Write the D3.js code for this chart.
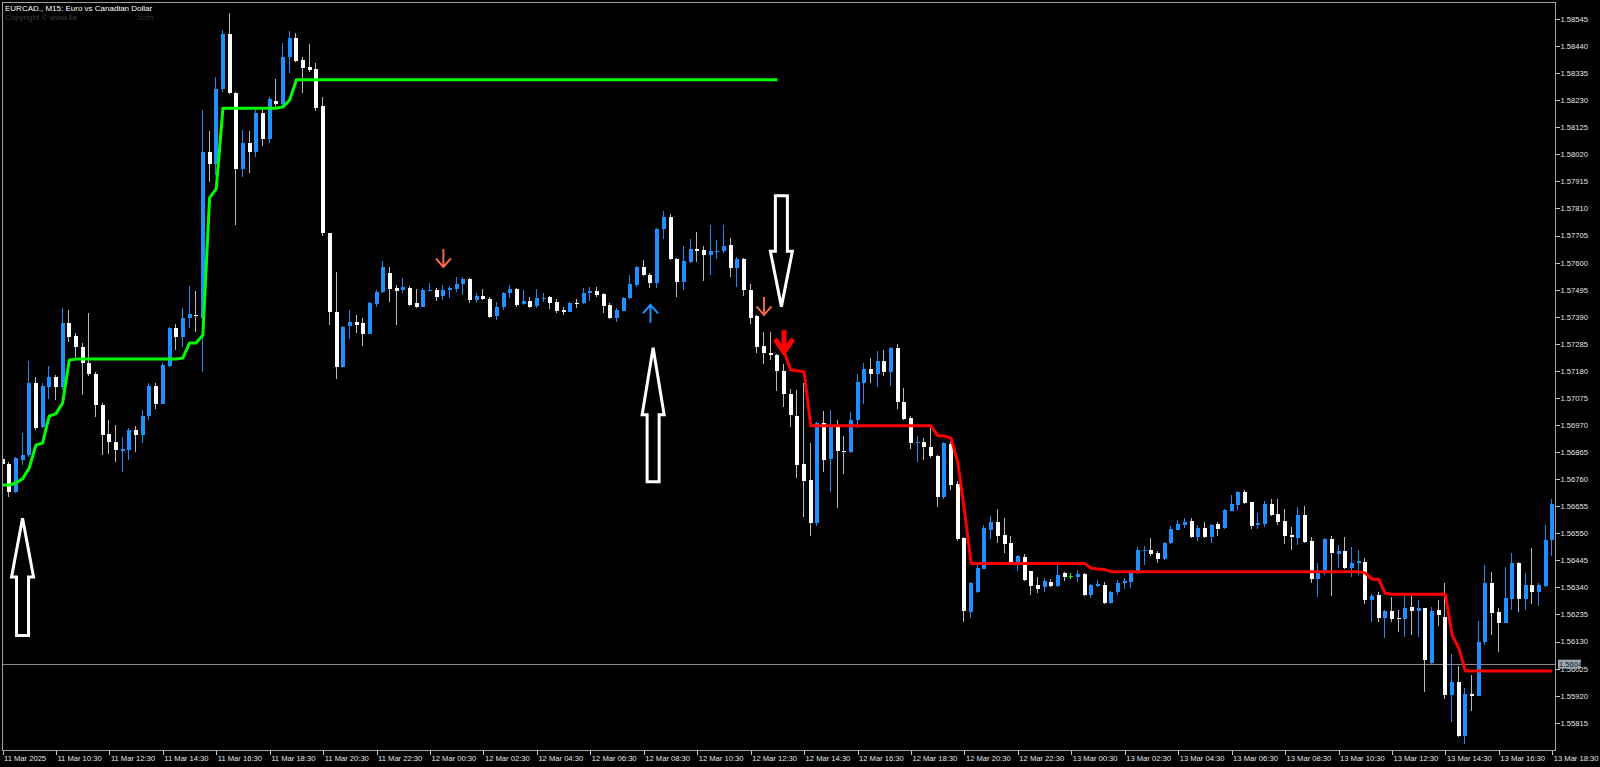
<!DOCTYPE html>
<html><head><meta charset="utf-8">
<script src="https://cdn.jsdelivr.net/npm/d3@7"></script>
<style>html,body{margin:0;padding:0;background:#000;overflow:hidden}</style>
</head><body>
<svg id="c" width="1600" height="767"></svg>
<script>
// ---------- data ----------
const title = "EURCAD., M15:  Euro vs Canadian Dollar";
const timeTickBars = [0,8,16,24,32,40,48,56,64,72,80,88,96,104,112,120,128,136,144,152,160,168,176,184,192,200,208,216,224,232];
const timeLabels = ["11 Mar 2025","11 Mar 10:30","11 Mar 12:30","11 Mar 14:30","11 Mar 16:30","11 Mar 18:30","11 Mar 20:30","11 Mar 22:30",
 "12 Mar 00:30","12 Mar 02:30","12 Mar 04:30","12 Mar 06:30","12 Mar 08:30","12 Mar 10:30","12 Mar 12:30","12 Mar 14:30","12 Mar 16:30","12 Mar 18:30","12 Mar 20:30","12 Mar 22:30",
 "13 Mar 00:30","13 Mar 02:30","13 Mar 04:30","13 Mar 06:30","13 Mar 08:30","13 Mar 10:30","13 Mar 12:30","13 Mar 14:30","13 Mar 16:30","13 Mar 18:30"];
const priceTicks = [1.55815,1.55920,1.56025,1.56130,1.56235,1.56340,1.56445,1.56550,1.56655,1.56760,1.56865,1.56970,1.57075,1.57180,1.57285,1.57390,1.57495,1.57600,1.57705,1.57810,1.57915,1.58020,1.58125,1.58230,1.58335,1.58440,1.58545];
const currentPrice = 1.56042;

const open = [1.56838,1.56819,1.56710,1.56834,1.56854,1.57133,1.56962,1.57117,1.57156,1.57117,1.57366,1.57315,1.57273,1.57211,1.57168,1.57048,1.56935,1.56904,1.56869,1.56873,
1.56951,1.56931,1.57005,1.57121,1.57052,1.57199,1.57346,1.57311,1.57385,1.57397,1.57385,1.58029,1.57983,1.58274,1.58487,1.58258,1.57963,1.58064,1.58029,1.58181,
1.58080,1.58227,1.58216,1.58398,1.58472,1.58386,1.58359,1.58351,1.58208,1.57715,1.57408,1.57195,1.57354,1.57370,1.57366,1.57323,1.57439,1.57486,1.57560,1.57502,
1.57494,1.57502,1.57443,1.57428,1.57490,1.57494,1.57471,1.57494,1.57498,1.57517,1.57537,1.57455,1.57471,1.57459,1.57393,1.57428,1.57482,1.57498,1.57439,1.57451,
1.57432,1.57459,1.57467,1.57447,1.57416,1.57408,1.57443,1.57443,1.57482,1.57490,1.57478,1.57436,1.57385,1.57412,1.57463,1.57513,1.57583,1.57552,1.57521,1.57730,
1.57777,1.57614,1.57525,1.57602,1.57653,1.57649,1.57630,1.57641,1.57645,1.57669,1.57579,1.57614,1.57494,1.57393,1.57277,1.57249,1.57242,1.57180,1.57090,1.57005,
1.56819,1.56757,1.56590,1.56978,1.56838,1.56962,1.56869,1.56865,1.56989,1.57133,1.57187,1.57168,1.57218,1.57176,1.57269,1.57059,1.56997,1.56900,1.56904,1.56885,
1.56850,1.56691,1.56896,1.56741,1.56532,1.56244,1.56322,1.56411,1.56563,1.56594,1.56543,1.56512,1.56435,1.56458,1.56404,1.56349,1.56341,1.56361,1.56345,1.56396,
1.56384,1.56380,1.56392,1.56310,1.56345,1.56349,1.56279,1.56322,1.56357,1.56361,1.56396,1.56481,1.56485,1.56474,1.56450,1.56512,1.56563,1.56582,1.56598,1.56536,
1.56570,1.56536,1.56586,1.56570,1.56637,1.56660,1.56710,1.56671,1.56582,1.56586,1.56664,1.56625,1.56598,1.56543,1.56532,1.56621,1.56520,1.56372,1.56396,1.56528,
1.56470,1.56481,1.56415,1.56435,1.56439,1.56291,1.56310,1.56221,1.56248,1.56221,1.56217,1.56264,1.56248,1.56260,1.56047,1.56252,1.56225,1.55922,1.55973,1.55763,
1.55926,1.55918,1.56128,1.56357,1.56244,1.56202,1.56295,1.56435,1.56295,1.56349,1.56322,1.56345,1.56524];
const high = [1.56846,1.56826,1.56846,1.56939,1.57218,1.57156,1.57133,1.57199,1.57164,1.57424,1.57416,1.57327,1.57288,1.57405,1.57176,1.57056,1.56989,1.56970,1.56923,1.56958,
1.56966,1.57028,1.57133,1.57133,1.57211,1.57350,1.57362,1.57424,1.57509,1.57490,1.58192,1.58111,1.58320,1.58503,1.58569,1.58262,1.58115,1.58111,1.58192,1.58204,
1.58243,1.58313,1.58452,1.58499,1.58491,1.58398,1.58448,1.58375,1.58243,1.57715,1.57564,1.57354,1.57416,1.57397,1.57385,1.57447,1.57494,1.57606,1.57583,1.57513,
1.57540,1.57509,1.57498,1.57502,1.57521,1.57502,1.57513,1.57509,1.57544,1.57544,1.57540,1.57482,1.57498,1.57467,1.57447,1.57486,1.57513,1.57502,1.57494,1.57467,
1.57498,1.57482,1.57469,1.57459,1.57428,1.57447,1.57459,1.57502,1.57505,1.57505,1.57482,1.57443,1.57424,1.57467,1.57552,1.57587,1.57610,1.57560,1.57734,1.57800,
1.57788,1.57618,1.57665,1.57692,1.57719,1.57665,1.57746,1.57688,1.57746,1.57696,1.57622,1.57618,1.57517,1.57397,1.57331,1.57331,1.57246,1.57207,1.57110,1.57106,
1.57133,1.56900,1.56982,1.57024,1.57028,1.56989,1.56927,1.57020,1.57168,1.57211,1.57230,1.57257,1.57261,1.57273,1.57284,1.57114,1.57005,1.56927,1.56920,1.56958,
1.56854,1.56904,1.56904,1.56753,1.56536,1.56361,1.56438,1.56582,1.56617,1.56644,1.56609,1.56539,1.56466,1.56470,1.56404,1.56380,1.56376,1.56372,1.56427,1.56400,
1.56396,1.56407,1.56396,1.56353,1.56369,1.56361,1.56326,1.56369,1.56376,1.56400,1.56497,1.56501,1.56532,1.56481,1.56516,1.56578,1.56601,1.56609,1.56609,1.56582,
1.56594,1.56586,1.56594,1.56644,1.56698,1.56714,1.56718,1.56671,1.56629,1.56675,1.56683,1.56683,1.56644,1.56574,1.56652,1.56656,1.56536,1.56435,1.56532,1.56539,
1.56504,1.56536,1.56497,1.56485,1.56454,1.56314,1.56322,1.56252,1.56303,1.56252,1.56306,1.56306,1.56291,1.56260,1.56264,1.56291,1.56357,1.56082,1.56035,1.55950,
1.56000,1.56210,1.56427,1.56400,1.56260,1.56419,1.56473,1.56439,1.56396,1.56493,1.56357,1.56582,1.56683];
const low = [1.56795,1.56691,1.56706,1.56815,1.56846,1.56951,1.56958,1.57071,1.57067,1.57106,1.57292,1.57234,1.57086,1.57160,1.57001,1.56854,1.56858,1.56826,1.56788,1.56834,
1.56865,1.56900,1.56989,1.57032,1.57052,1.57195,1.57261,1.57273,1.57346,1.57331,1.57176,1.57913,1.57940,1.58262,1.58254,1.57746,1.57932,1.57948,1.58010,1.58053,
1.58064,1.58204,1.58208,1.58336,1.58378,1.58258,1.58340,1.58188,1.57703,1.57358,1.57149,1.57191,1.57304,1.57327,1.57277,1.57323,1.57428,1.57482,1.57447,1.57358,
1.57482,1.57432,1.57424,1.57428,1.57490,1.57451,1.57455,1.57463,1.57486,1.57474,1.57443,1.57443,1.57455,1.57385,1.57377,1.57416,1.57463,1.57428,1.57436,1.57424,
1.57424,1.57447,1.57420,1.57405,1.57397,1.57408,1.57424,1.57439,1.57451,1.57467,1.57405,1.57381,1.57370,1.57412,1.57459,1.57505,1.57548,1.57502,1.57502,1.57692,
1.57610,1.57467,1.57494,1.57598,1.57602,1.57529,1.57552,1.57614,1.57637,1.57544,1.57505,1.57471,1.57362,1.57249,1.57207,1.57222,1.57102,1.57040,1.56962,1.56764,
1.56613,1.56539,1.56579,1.56788,1.56710,1.56648,1.56780,1.56861,1.56958,1.57052,1.57133,1.57117,1.57160,1.57121,1.57032,1.56989,1.56877,1.56826,1.56834,1.56842,
1.56652,1.56683,1.56718,1.56520,1.56206,1.56221,1.56318,1.56411,1.56528,1.56512,1.56473,1.56427,1.56404,1.56365,1.56310,1.56318,1.56322,1.56341,1.56341,1.56365,
1.56372,1.56361,1.56306,1.56299,1.56341,1.56275,1.56275,1.56310,1.56334,1.56338,1.56392,1.56427,1.56462,1.56435,1.56446,1.56508,1.56563,1.56570,1.56532,1.56520,
1.56532,1.56512,1.56540,1.56567,1.56637,1.56640,1.56664,1.56567,1.56567,1.56574,1.56617,1.56582,1.56508,1.56485,1.56504,1.56512,1.56357,1.56303,1.56388,1.56306,
1.56415,1.56411,1.56380,1.56388,1.56275,1.56206,1.56206,1.56144,1.56206,1.56167,1.56147,1.56155,1.56147,1.55934,1.56043,1.56190,1.55907,1.55818,1.55759,1.55732,
1.55860,1.55918,1.56116,1.56155,1.56089,1.56202,1.56252,1.56244,1.56252,1.56275,1.56268,1.56341,1.56462];
const close = [1.56819,1.56710,1.56842,1.56854,1.57133,1.56958,1.57121,1.57156,1.57117,1.57366,1.57311,1.57273,1.57211,1.57168,1.57048,1.56931,1.56904,1.56873,1.56877,1.56951,
1.56931,1.57005,1.57121,1.57052,1.57203,1.57346,1.57311,1.57385,1.57401,1.57393,1.58029,1.57983,1.58274,1.58487,1.58258,1.57963,1.58064,1.58029,1.58181,1.58080,
1.58235,1.58216,1.58398,1.58472,1.58382,1.58355,1.58348,1.58200,1.57715,1.57408,1.57195,1.57350,1.57370,1.57358,1.57323,1.57443,1.57486,1.57583,1.57498,1.57490,
1.57505,1.57436,1.57428,1.57494,1.57494,1.57467,1.57494,1.57502,1.57517,1.57537,1.57455,1.57471,1.57459,1.57389,1.57428,1.57482,1.57498,1.57436,1.57451,1.57428,
1.57463,1.57463,1.57443,1.57412,1.57408,1.57443,1.57439,1.57482,1.57490,1.57474,1.57432,1.57385,1.57416,1.57463,1.57517,1.57583,1.57552,1.57521,1.57730,1.57777,
1.57614,1.57525,1.57606,1.57653,1.57645,1.57630,1.57645,1.57645,1.57665,1.57579,1.57614,1.57494,1.57385,1.57273,1.57249,1.57242,1.57180,1.57090,1.57009,1.56815,
1.56753,1.56590,1.56978,1.56834,1.56962,1.56869,1.56865,1.56989,1.57137,1.57187,1.57168,1.57218,1.57176,1.57269,1.57059,1.56993,1.56900,1.56904,1.56885,1.56850,
1.56691,1.56900,1.56737,1.56528,1.56248,1.56357,1.56415,1.56570,1.56594,1.56539,1.56508,1.56435,1.56462,1.56369,1.56345,1.56334,1.56365,1.56345,1.56388,1.56380,
1.56384,1.56392,1.56310,1.56349,1.56353,1.56279,1.56322,1.56357,1.56365,1.56396,1.56485,1.56485,1.56470,1.56450,1.56512,1.56567,1.56586,1.56594,1.56536,1.56570,
1.56536,1.56582,1.56567,1.56640,1.56664,1.56710,1.56667,1.56578,1.56590,1.56664,1.56621,1.56594,1.56539,1.56536,1.56621,1.56516,1.56372,1.56396,1.56528,1.56473,
1.56481,1.56415,1.56435,1.56443,1.56291,1.56306,1.56221,1.56248,1.56217,1.56217,1.56260,1.56248,1.56260,1.56058,1.56248,1.56233,1.55922,1.55973,1.55763,1.55926,
1.55918,1.56128,1.56357,1.56241,1.56202,1.56299,1.56435,1.56295,1.56349,1.56322,1.56349,1.56524,1.56664];

// trailing stop lines (green: bars 0..116, red: bars 117..232)
const greenStart = 0;
const greenLine = [1.56737,1.56737,1.56745,1.56761,1.56803,1.56892,1.56900,1.57005,1.57013,1.57055,1.57222,
1.57226,1.57226,1.57226,1.57226,1.57226,1.57226,1.57226,1.57226,1.57226,1.57226,1.57226,1.57226,1.57226,1.57226,1.57226,1.57226,
1.57230,1.57288,1.57288,1.57319,1.57851,1.57886,1.58199,
1.58199,1.58199,1.58199,1.58199,1.58199,1.58199,1.58199,1.58199,
1.58204,1.58231,
1.58309,1.58309,1.58309,1.58309,1.58309,1.58309,1.58309,1.58309,1.58309,1.58309,1.58309,1.58309,1.58309,1.58309,1.58309,1.58309,1.58309,1.58309,1.58309,1.58309,
1.58309,1.58309,1.58309,1.58309,1.58309,1.58309,1.58309,1.58309,1.58309,1.58309,1.58309,1.58309,1.58309,1.58309,1.58309,1.58309,1.58309,1.58309,1.58309,1.58309,
1.58309,1.58309,1.58309,1.58309,1.58309,1.58309,1.58309,1.58309,1.58309,1.58309,1.58309,1.58309,1.58309,1.58309,1.58309,1.58309,1.58309,1.58309,1.58309,1.58309,
1.58309,1.58309,1.58309,1.58309,1.58309,1.58309,1.58309,1.58309,1.58309,1.58309,1.58309,1.58309,1.58309];
const redStart = 117;
const redLine = [1.57254,1.57183,1.57180,1.57176,
1.56967,1.56967,1.56967,1.56967,1.56967,1.56967,1.56967,1.56967,1.56967,1.56967,1.56967,1.56967,1.56967,1.56967,1.56967,1.56967,1.56967,1.56967,1.56967,
1.56929,1.56927,1.56919,1.56826,1.56640,
1.56433,1.56433,1.56433,1.56433,1.56433,1.56433,1.56433,1.56433,1.56433,1.56433,1.56433,1.56433,1.56433,1.56433,1.56433,1.56433,1.56433,1.56433,
1.56414,1.56411,1.56409,
1.56401,1.56401,1.56401,1.56401,1.56401,1.56401,1.56401,1.56401,1.56401,1.56401,1.56401,1.56401,1.56401,1.56401,1.56401,1.56401,1.56401,1.56401,1.56401,
1.56401,1.56401,1.56401,1.56401,1.56401,1.56401,1.56401,1.56401,1.56401,1.56401,1.56401,1.56401,1.56401,1.56401,1.56401,1.56401,1.56401,1.56401,1.56401,
1.56396,1.56372,1.56372,1.56317,
1.56313,1.56313,1.56313,1.56313,1.56313,1.56313,1.56313,1.56313,1.56313,
1.56155,1.56105,
1.56016,1.56016,1.56016,1.56016,1.56016,1.56016,1.56016,1.56016,1.56016,1.56016,1.56016,1.56016,1.56016,1.56016];

// signal arrows (bar index, tip price)
const sellSignalBars = [66, 114];
const sellSignalPrices = [1.57583, 1.57397];
const buySignalBars = [97];
const buySignalPrices = [1.57436];
const strongSellBars = [117];
const strongSellPrices = [1.57253];
// big hollow annotation arrows (bar, tip price, tail price, direction)
const bigArrowBars = [3, 97.4, 116.6];
const bigArrowTips = [1.56608, 1.57270, 1.57429];
const bigArrowTails = [1.56153, 1.56750, 1.57859];

// ---------- drawing ----------
const W = 1600, H = 767;
const plotL = 2, plotT = 2, plotR = 1555, plotB = 750;
const svg = d3.select("#c");
svg.append("rect").attr("width", W).attr("height", H).attr("fill", "#000");

const x = d3.scaleLinear().domain([0, 232]).range([2.5, 1552.26]);
const y = d3.scaleLinear().domain([1.55815, 1.58545]).range([722.7, 19]);

svg.append("defs").append("clipPath").attr("id", "clip")
  .append("rect").attr("x", plotL).attr("y", plotT).attr("width", plotR - plotL).attr("height", plotB - plotT);

const font = "'Liberation Sans', Arial, sans-serif";

// current price line
svg.append("line").attr("x1", plotL).attr("x2", plotR)
  .attr("y1", Math.round(y(currentPrice)) + 0.5).attr("y2", Math.round(y(currentPrice)) + 0.5)
  .attr("stroke", "#8a8a8a").attr("stroke-width", 1);

const plot = svg.append("g").attr("clip-path", "url(#clip)");

const bars = open.map((o, i) => ({ i, o, h: high[i], l: low[i], c: close[i] }));
const bull = "#1E90FF", bear = "#FFFFFF", doji = "#00FF00";
const colorOf = d => d.c > d.o ? bull : (d.c < d.o ? bear : doji);
const wickOf = d => d.c > d.o ? "#1E8AF5" : (d.c < d.o ? "#b8b8b8" : doji);

const cg = plot.append("g").attr("shape-rendering", "crispEdges");
cg.selectAll("line.wick").data(bars).join("line").attr("class", "wick")
  .attr("x1", d => Math.round(x(d.i)) - 0.5).attr("x2", d => Math.round(x(d.i)) - 0.5)
  .attr("y1", d => y(d.h)).attr("y2", d => y(d.l))
  .attr("stroke", wickOf).attr("stroke-width", 1);
cg.selectAll("rect.body").data(bars).join("rect").attr("class", "body")
  .attr("x", d => Math.round(x(d.i)) - 2).attr("width", 4)
  .attr("y", d => Math.min(y(d.o), y(d.c)))
  .attr("height", d => Math.max(1, Math.abs(y(d.o) - y(d.c))))
  .attr("fill", colorOf);

// stop lines
const line = d3.line().x(d => x(d.i)).y(d => y(d.v));
plot.append("path").datum(greenLine.map((v, k) => ({ i: greenStart + k, v })))
  .attr("d", line).attr("fill", "none").attr("stroke", "#00FF00").attr("stroke-width", 3).attr("stroke-linejoin", "round");
plot.append("path").datum(redLine.map((v, k) => ({ i: redStart + k, v })))
  .attr("d", line).attr("fill", "none").attr("stroke", "#FF0000").attr("stroke-width", 3).attr("stroke-linejoin", "round");

// thin signal arrows
function thinArrow(cx, tipY, dir, color, sw, len, hw, hh) {
  const p = d3.path();
  p.moveTo(cx, tipY - dir * len); p.lineTo(cx, tipY);
  p.moveTo(cx - hw, tipY - dir * hh); p.lineTo(cx, tipY); p.lineTo(cx + hw, tipY - dir * hh);
  plot.append("path").attr("d", p.toString()).attr("fill", "none").attr("stroke", color)
    .attr("stroke-width", sw).attr("stroke-linejoin", "miter").attr("stroke-linecap", "butt");
}
sellSignalBars.forEach((b, k) => thinArrow(x(b), y(sellSignalPrices[k]), 1, "#F2684C", 2, 18, 7.5, 8.5));
buySignalBars.forEach((b, k) => thinArrow(x(b), y(buySignalPrices[k]), -1, "#1E90FF", 2, 18, 7.5, 8.5));
strongSellBars.forEach((b, k) => thinArrow(x(b), y(strongSellPrices[k]), 1, "#FF0000", 5, 22, 9, 13));

// big hollow arrows
bigArrowBars.forEach((b, k) => {
  const cx = x(b), ty = y(bigArrowTips[k]), ey = y(bigArrowTails[k]);
  const by = ty + (ey - ty) / 2;
  const hw = 11, sw = 6;
  const pts = [[cx, ty], [cx + hw, by], [cx + sw, by], [cx + sw, ey], [cx - sw, ey], [cx - sw, by], [cx - hw, by]];
  plot.append("path").attr("d", d3.line()(pts) + "Z").attr("fill", "none")
    .attr("stroke", "#FFFFFF").attr("stroke-width", 3).attr("stroke-linejoin", "miter");
});

// frame
svg.append("rect").attr("x", plotL + 0.5).attr("y", plotT + 0.5).attr("width", plotR - plotL).attr("height", plotB - plotT)
  .attr("fill", "none").attr("stroke", "#a0a0a0").attr("stroke-width", 1).attr("shape-rendering", "crispEdges");

// price axis
const ya = svg.append("g").attr("transform", `translate(${plotR + 0.5},0)`)
  .call(d3.axisRight(y).tickValues(priceTicks).tickFormat(d3.format(".5f")).tickSize(4).tickPadding(1));
ya.select(".domain").remove();
ya.selectAll("line").attr("stroke", "#c8c8c8").attr("shape-rendering", "crispEdges");
ya.selectAll("text").attr("fill", "#e6e6e6").attr("font-family", font).attr("font-size", 7.6);

// current price label box
const cpy = y(currentPrice);
svg.append("rect").attr("x", 1558).attr("y", cpy - 4.5).attr("width", 23).attr("height", 9)
  .attr("fill", "#9aa5b0");
svg.append("text").attr("x", 1559).attr("y", cpy).attr("dy", "0.34em").text(d3.format(".5f")(currentPrice))
  .attr("fill", "#101820").attr("font-family", font).attr("font-size", 7.6);

// time axis
const xa = svg.append("g").attr("transform", `translate(0,${plotB + 0.5})`)
  .call(d3.axisBottom(x).tickValues(timeTickBars).tickFormat((d, k) => timeLabels[k]).tickSize(4).tickPadding(1));
xa.select(".domain").remove();
xa.selectAll("line").attr("stroke", "#c8c8c8").attr("shape-rendering", "crispEdges");
xa.selectAll("text").attr("text-anchor", "start").attr("dx", 1).attr("fill", "#e6e6e6")
  .attr("font-family", font).attr("font-size", 7.6);

// title
svg.append("text").attr("x", 5).attr("y", 11).text(title)
  .attr("fill", "#ffffff").attr("font-family", font).attr("font-size", 8);
svg.append("text").attr("x", 5).attr("y", 20).text("Copyright © www.ke")
  .attr("fill", "#3c3c3c").attr("font-family", font).attr("font-size", 8);
svg.append("text").attr("x", 136).attr("y", 20).text(".com")
  .attr("fill", "#333").attr("font-family", font).attr("font-size", 8);
</script>
</body></html>
